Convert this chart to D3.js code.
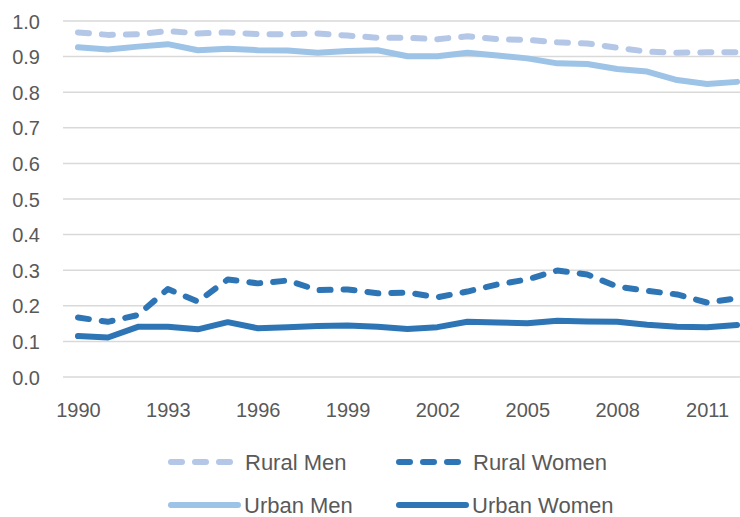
<!DOCTYPE html>
<html>
<head>
<meta charset="utf-8">
<script src="https://cdn.jsdelivr.net/npm/d3@7"></script>
<style>
html,body{margin:0;padding:0;background:#fff;}
svg{display:block;}
text{font-family:"Liberation Sans",Arial,sans-serif;fill:#595959;}
</style>
</head>
<body>
<svg id="chart" width="740" height="517"></svg>
<script>
const years = d3.range(1990, 2013);
const tickYears = [1990, 1993, 1996, 1999, 2002, 2005, 2008, 2011];
const yTicks = [0, 0.1, 0.2, 0.3, 0.4, 0.5, 0.6, 0.7, 0.8, 0.9, 1.0];

const seriesNames = ["Rural Men", "Rural Women", "Urban Men", "Urban Women"];
const ruralMen   = [0.968,0.961,0.963,0.972,0.965,0.968,0.963,0.963,0.965,0.959,0.953,0.953,0.949,0.957,0.949,0.947,0.940,0.937,0.925,0.914,0.911,0.912,0.912];
const ruralWomen = [0.167,0.155,0.174,0.247,0.212,0.274,0.263,0.271,0.244,0.246,0.235,0.237,0.224,0.240,0.260,0.274,0.299,0.288,0.254,0.242,0.232,0.209,0.221];
const urbanMen   = [0.926,0.920,0.928,0.935,0.918,0.922,0.918,0.917,0.911,0.916,0.918,0.901,0.901,0.911,0.903,0.895,0.881,0.879,0.865,0.858,0.834,0.823,0.829];
const urbanWomen = [0.115,0.111,0.141,0.141,0.134,0.154,0.137,0.140,0.143,0.145,0.141,0.135,0.140,0.155,0.153,0.151,0.158,0.156,0.155,0.147,0.141,0.140,0.146];

const seriesValues = [ruralMen, ruralWomen, urbanMen, urbanWomen];
const seriesColors = ["#b4c7e7", "#2e75b6", "#9dc3e6", "#2e75b6"];
const seriesDashed = [true, true, false, false];

const svg = d3.select("#chart");
const W = 740, H = 517;
const plotLeft = 63, plotRight = 752, plotTop = 21, plotBottom = 377;

const x = d3.scalePoint().domain(years).range([plotLeft, plotRight]).padding(0.5);
const y = d3.scaleLinear().domain([0, 1]).range([plotBottom, plotTop]);

// gridlines
svg.append("g").selectAll("line").data(yTicks).join("line")
  .attr("x1", plotLeft).attr("x2", plotRight)
  .attr("y1", d => y(d)).attr("y2", d => y(d))
  .attr("stroke", "#d9d9d9").attr("stroke-width", 1.5);

// y axis labels
const yAxis = d3.axisLeft(y).tickValues(yTicks).tickFormat(d3.format(".1f")).tickSize(0).tickPadding(0);
const gy = svg.append("g").attr("transform", "translate(40,0)").call(yAxis);
gy.select(".domain").remove();
gy.selectAll("text").attr("font-size", 20).style("font-family", "'Liberation Sans', Arial, sans-serif").attr("fill", "#595959").attr("dy", "0.35em");

// x axis labels
const xAxis = d3.axisBottom(x).tickValues(tickYears).tickSize(0).tickPadding(0);
const gx = svg.append("g").attr("transform", "translate(0,403)").call(xAxis);
gx.select(".domain").remove();
gx.selectAll("text").attr("font-size", 20).style("font-family", "'Liberation Sans', Arial, sans-serif").attr("fill", "#595959").attr("dy", "0.71em");

// lines
const line = d3.line().x((d, i) => x(years[i])).y(d => y(d));
seriesValues.forEach((vals, k) => {
  svg.append("path").datum(vals)
    .attr("d", line)
    .attr("fill", "none")
    .attr("stroke", seriesColors[k])
    .attr("stroke-width", 6)
    .attr("stroke-linecap", "round")
    .attr("stroke-linejoin", "round")
    .attr("stroke-dasharray", seriesDashed[k] ? "11,13" : null);
});

// legend
const legendPos = [[168, 462], [396, 462], [168, 505], [396, 505]];
seriesNames.forEach((name, k) => {
  const [lx, ly] = legendPos[k];
  const g = svg.append("g");
  if (seriesDashed[k]) {
    g.append("line").attr("x1", lx + 3).attr("x2", lx + 66).attr("y1", ly).attr("y2", ly)
      .attr("stroke", seriesColors[k]).attr("stroke-width", 6).attr("stroke-linecap", "round")
      .attr("stroke-dasharray", "11,13");
  } else {
    g.append("line").attr("x1", lx + 3).attr("x2", lx + 70).attr("y1", ly).attr("y2", ly)
      .attr("stroke", seriesColors[k]).attr("stroke-width", 6).attr("stroke-linecap", "round");
  }
  g.append("text").attr("x", seriesDashed[k] ? lx + 77 : lx + 76).attr("y", ly).attr("dy", "0.35em")
    .attr("font-size", 22).text(name);
});
</script>
</body>
</html>
